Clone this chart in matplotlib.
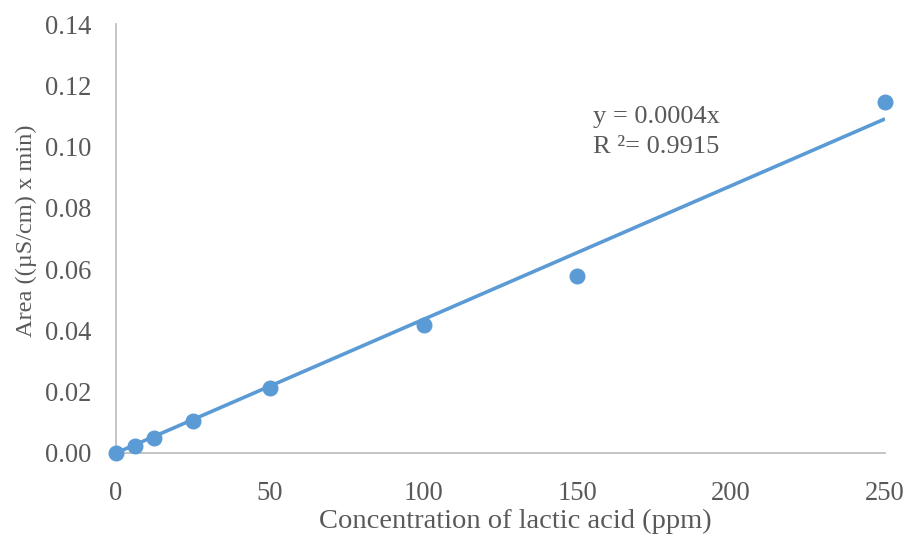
import numpy as np
import matplotlib.pyplot as plt

# calibration data
conc_ppm = np.array([0, 6.25, 12.5, 25, 50, 100, 150, 250])
area = np.array([0.0, 0.0024, 0.0050, 0.0104, 0.0212, 0.0419, 0.0578, 0.1145])

x_ticks = [0, 50, 100, 150, 200, 250]
y_ticks = [0.00, 0.02, 0.04, 0.06, 0.08, 0.10, 0.12, 0.14]
eq_text = 'y = 0.0004x'
r2_text = 'R ²= 0.9915'

blue = '#5B9BD5'
grey = '#595959'
plt.rcParams['font.family'] = ['Liberation Serif', 'DejaVu Serif']

fig = plt.figure(figsize=(9.08, 5.36), dpi=100)
ax = fig.add_axes([0.1278, 0.1549, 0.8469, 0.8003])

# linear trendline forced through origin
slope = np.sum(conc_ppm * area) / np.sum(conc_ppm ** 2)
xl = np.array([conc_ppm.min(), conc_ppm.max()])
ax.plot(xl, slope * xl, color=blue, lw=2.6, solid_capstyle='butt', zorder=2)
ax.plot(conc_ppm, area, 'o', color=blue, ms=10.5, zorder=3, clip_on=False)

ax.set_xlim(0, 250)
ax.set_ylim(0, 0.14)
ax.set_xticks(x_ticks)
ax.set_yticks(y_ticks)
ax.set_yticklabels([f'{v:.2f}' for v in y_ticks])
ax.tick_params(length=0, labelsize=19.2, colors=grey)
ax.tick_params(axis='x', pad=20)
ax.tick_params(axis='y', pad=18)

for s in ['top', 'right']:
    ax.spines[s].set_visible(False)
for s in ['left', 'bottom']:
    ax.spines[s].set_color('#BFBFBF')
    ax.spines[s].set_linewidth(1.3)

ax.set_xlabel('Concentration of lactic acid (ppm)', fontsize=20.5, color=grey)
ax.xaxis.set_label_coords(0.5195, -0.131)
ax.set_ylabel('Area ((µS/cm) x min)', fontsize=17.6, color=grey)
ax.yaxis.set_label_coords(-0.103, 0.517)

ax.text(0.62, 0.783, eq_text, transform=ax.transAxes, fontsize=19,
        color=grey, va='center', ha='left')
ax.text(0.62, 0.713, r2_text, transform=ax.transAxes, fontsize=19,
        color=grey, va='center', ha='left')

fig.savefig('out.png', dpi=100)
